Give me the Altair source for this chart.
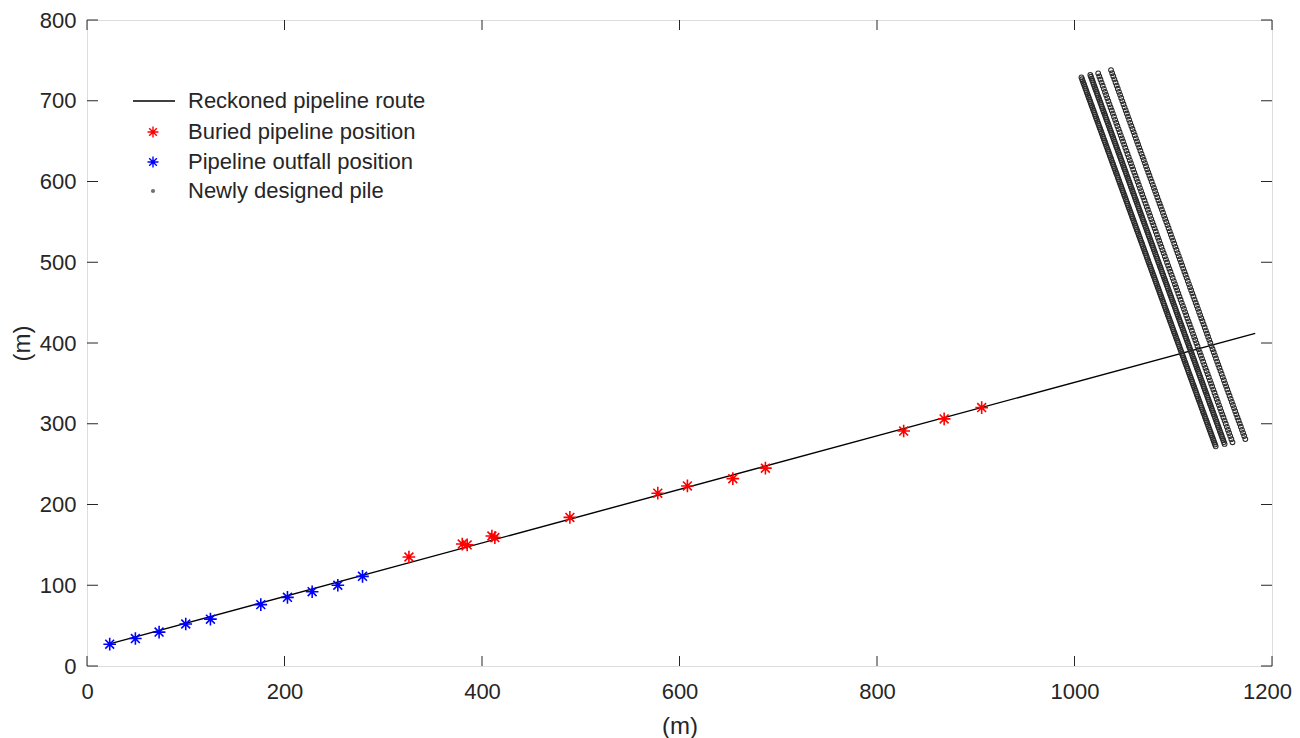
import altair as alt
import numpy as np
import pandas as pd

# ---------------- data ----------------
route_x = [22, 1183]
route_y = [27, 412]

buried_x = [326, 380, 385, 410, 413, 489, 578, 608, 654, 687, 827, 868, 906]
buried_y = [135, 151, 150, 161, 159, 184, 214, 223, 232, 245, 291, 306, 320]

outfall_x = [23, 49, 73, 100, 125, 176, 203, 228, 254, 279]
outfall_y = [27, 34, 42, 52, 58, 76, 85, 92, 100, 111]

# designed pile rows: start / end of each row and number of piles per row
pile_start_x = [1007, 1016, 1024, 1037]
pile_start_y = [729, 732, 734, 738]
pile_end_x = [1143, 1152, 1160, 1173]
pile_end_y = [272, 275, 277, 281]
pile_count = [200, 200, 120, 120]

x_ticks = [0, 200, 400, 600, 800, 1000, 1200]
y_ticks = [0, 100, 200, 300, 400, 500, 600, 700, 800]

legend_labels = ["Reckoned pipeline route", "Buried pipeline position",
                 "Pipeline outfall position", "Newly designed pile"]

# ---------------- tables ----------------
route_df = pd.DataFrame({"x": route_x, "y": route_y})
buried_df = pd.DataFrame({"x": buried_x, "y": buried_y})
outfall_df = pd.DataFrame({"x": outfall_x, "y": outfall_y})
rows = []
for x0, y0, x1, y1, n in zip(pile_start_x, pile_start_y, pile_end_x, pile_end_y, pile_count):
    for t in np.linspace(0, 1, n):
        rows.append({"x": x0 + (x1 - x0) * t, "y": y0 + (y1 - y0) * t})
pile_df = pd.DataFrame(rows)
xt_df = pd.DataFrame({"v": x_ticks})
yt_df = pd.DataFrame({"v": y_ticks})

W, H = 1185, 646
TXT = "#262626"
FONT = "Liberation Sans"
STAR = "M-1,0L1,0M0,-1L0,1M-0.7,-0.7L0.7,0.7M-0.7,0.7L0.7,-0.7"

xscale = alt.Scale(domain=[0, 1200], nice=False, zero=False)
yscale = alt.Scale(domain=[0, 800], nice=False, zero=False)

xaxis = alt.Axis(values=x_ticks, format="d", ticks=False, domain=False, grid=False,
                 labelFlush=False, labelOverlap=False,
                 labelOffset={"expr": "datum.value == 1200 ? -5 : 0"},
                 labelFontSize=22, labelColor=TXT, labelFont=FONT, labelPadding=15,
                 title="(m)", titleFontSize=24, titleFont=FONT, titleFontWeight="normal",
                 titleColor=TXT, titleX=W / 2, titleY=60, titleBaseline="middle",
                 titleAlign="center")
yaxis = alt.Axis(values=y_ticks, format="d", ticks=False, domain=False, grid=False,
                 labelFlush=False, labelOverlap=False,
                 labelFontSize=22, labelColor=TXT, labelFont=FONT, labelPadding=11,
                 title="(m)", titleFontSize=24, titleFont=FONT, titleFontWeight="normal",
                 titleColor=TXT, titleX=-65, titleY=H / 2, titleBaseline="middle",
                 titleAlign="center", titleAngle=270)

route = alt.Chart(route_df).mark_line(color="black", strokeWidth=1.4).encode(
    x=alt.X("x:Q", scale=xscale, axis=xaxis),
    y=alt.Y("y:Q", scale=yscale, axis=yaxis),
)

piles = alt.Chart(pile_df).mark_point(shape="circle", size=22, filled=False,
                                      color="#2a2a2a", strokeWidth=1.1, opacity=1).encode(
    x=alt.X("x:Q", scale=xscale), y=alt.Y("y:Q", scale=yscale))

buried = alt.Chart(buried_df).mark_point(shape=STAR, size=160, filled=False,
                                         color="#ff0000", strokeWidth=1.6, opacity=1).encode(
    x=alt.X("x:Q", scale=xscale), y=alt.Y("y:Q", scale=yscale))

outfall = alt.Chart(outfall_df).mark_point(shape=STAR, size=160, filled=False,
                                           color="#0000ff", strokeWidth=1.6, opacity=1).encode(
    x=alt.X("x:Q", scale=xscale), y=alt.Y("y:Q", scale=yscale))

# inward ticks on all four sides
TL = 10
tick_b = alt.Chart(xt_df).mark_rule(color=TXT, strokeWidth=1).encode(
    x=alt.X("v:Q", scale=xscale), y=alt.value(H), y2=alt.value(H - TL))
tick_t = alt.Chart(xt_df).mark_rule(color=TXT, strokeWidth=1).encode(
    x=alt.X("v:Q", scale=xscale), y=alt.value(0), y2=alt.value(TL))
tick_l = alt.Chart(yt_df).mark_rule(color=TXT, strokeWidth=1).encode(
    y=alt.Y("v:Q", scale=yscale), x=alt.value(0), x2=alt.value(TL + 1))
tick_r = alt.Chart(yt_df).mark_rule(color=TXT, strokeWidth=1).encode(
    y=alt.Y("v:Q", scale=yscale), x=alt.value(W), x2=alt.value(W - TL - 1))

# legend (no box)
one = alt.Data(values=[{"a": 1}])
leg_y = [81, 112, 142, 171]
leg_layers = [
    alt.Chart(one).mark_rule(color="black", strokeWidth=1.4).encode(
        x=alt.value(46), x2=alt.value(88), y=alt.value(leg_y[0])),
    alt.Chart(one).mark_point(shape=STAR, size=120, filled=False, color="#ff0000",
                              strokeWidth=1.4, opacity=1).encode(
        x=alt.value(66), y=alt.value(leg_y[1])),
    alt.Chart(one).mark_point(shape=STAR, size=120, filled=False, color="#0000ff",
                              strokeWidth=1.4, opacity=1).encode(
        x=alt.value(66), y=alt.value(leg_y[2])),
    alt.Chart(one).mark_point(shape="circle", size=18, filled=True, color="#707070",
                              opacity=1).encode(
        x=alt.value(66), y=alt.value(leg_y[3])),
]
for lab, yy in zip(legend_labels, leg_y):
    leg_layers.append(
        alt.Chart(one).mark_text(align="left", baseline="middle", fontSize=22,
                                 font=FONT, color=TXT).encode(
            x=alt.value(101), y=alt.value(yy), text=alt.value(lab)))

chart = alt.layer(route, piles, buried, outfall, tick_b, tick_t, tick_l, tick_r,
                  *leg_layers).properties(
    width=W, height=H,
    autosize=alt.AutoSizeParams(type="none"),
    padding={"left": 79, "top": 12, "right": 20, "bottom": 72},
).configure_view(stroke=TXT, strokeWidth=1.2).configure(background="white")

chart.save("out.html", embed_options={"renderer": "svg", "actions": False})
